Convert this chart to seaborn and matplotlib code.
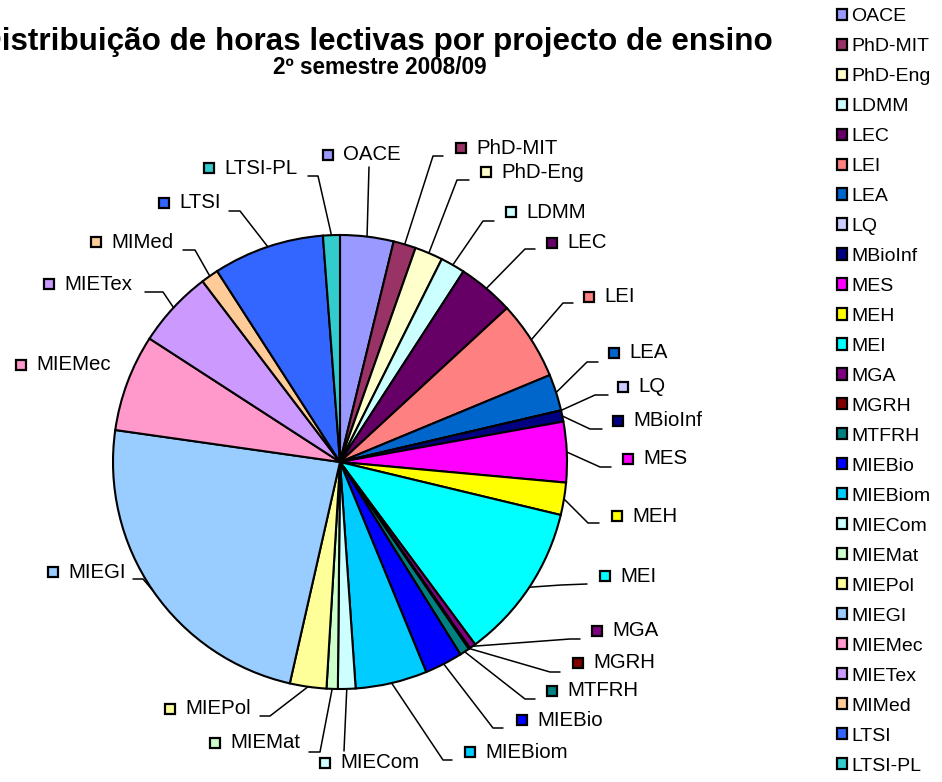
import matplotlib
matplotlib.use('agg')
import matplotlib.pyplot as plt
from matplotlib.patches import Rectangle
import numpy as np
import seaborn as sns

### data ###

projects = ["OACE", "PhD-MIT", "PhD-Eng", "LDMM", "LEC", "LEI", "LEA", "LQ",
            "MBioInf", "MES", "MEH", "MEI", "MGA", "MGRH", "MTFRH", "MIEBio",
            "MIEBiom", "MIECom", "MIEMat", "MIEPol", "MIEGI", "MIEMec",
            "MIETex", "MIMed", "LTSI", "LTSI-PL"]

# share of teaching hours (%)
hours_pct = [3.8, 1.6, 2.0, 1.75, 4.0, 5.6, 2.6, 0.0,
             0.8, 4.3, 2.3, 11.1, 0.45, 0.1, 0.7, 2.7,
             5.1, 1.25, 0.8, 2.6, 23.7, 6.9,
             5.5, 1.25, 7.9, 1.2]

colors = ["#9999FF", "#993366", "#FFFFCC", "#CCFFFF", "#660066", "#FF8080",
          "#0066CC", "#CCCCFF", "#000080", "#FF00FF", "#FFFF00", "#00FFFF",
          "#800080", "#800000", "#008080", "#0000FF", "#00CCFF", "#CCFFFF",
          "#CCFFCC", "#FFFF99", "#99CCFF", "#FF99CC", "#CC99FF", "#FFCC99",
          "#3366FF", "#33CCCC"]

title = "Distribuição de horas lectivas por projecto de ensino"
subtitle = "2º semestre 2008/09"

### layout (pixels, origin top-left) ###
W, H = 942, 782
PIE_C = (340, 462)
PIE_R = 227

# label square centre, leader elbow, leader end
label_sq = [(328, 155), (461, 148), (486, 172), (511, 212), (552, 243), (589, 297),
            (614, 353), (623, 387), (618, 421), (628, 459), (617, 516), (605, 576),
            (597, 631), (578, 663), (552, 691), (522, 720), (470, 752), (325, 763),
            (215, 743), (170, 709), (53, 572), (21, 365), (49, 284), (96, 242),
            (164, 203), (209, 168)]
leader = [((369, 167), (369, 167)), ((433, 156), (443, 156)), ((457, 180), (469, 180)),
          ((483, 221), (494, 221)), ((525, 249), (535, 249)), ((563, 303), (573, 303)),
          ((587, 362), (598, 362)), ((595, 395), (608, 395)), ((590, 429), (602, 429)),
          ((600, 467), (611, 467)), ((588, 523), (599, 523)), ((561, 585), (587, 584)),
          ((570, 639), (580, 639)), ((550, 672), (560, 672)), ((525, 699), (535, 699)),
          ((493, 728), (503, 728)), ((443, 760), (452, 760)), ((344, 751), (344, 751)),
          ((320, 752), (309, 752)), ((270, 716), (260, 716)), ((143, 579), (133, 579)),
          None, ((163, 292), (145, 292)), ((195, 250), (183, 250)),
          ((240, 211), (229, 211)), ((318, 176), (308, 176))]


def py(y):
    # pixel row -> data y
    return H - y


sns.set_style("white")
plt.rcParams['font.family'] = ['Liberation Sans', 'DejaVu Sans']
plt.rcParams['text.color'] = 'black'

fig = plt.figure(figsize=(W / 100, H / 100), dpi=100)
ax = fig.add_axes([0, 0, 1, 1])

wedges, _ = ax.pie(hours_pct, colors=colors, startangle=90, counterclock=False,
                   center=(PIE_C[0], py(PIE_C[1])), radius=PIE_R,
                   wedgeprops=dict(edgecolor="black", linewidth=1.5))

ax.set_xlim(0, W)
ax.set_ylim(0, H)
ax.set_aspect('equal')
ax.axis('off')

# data labels with leader lines
for w, name, col, sq, ld in zip(wedges, projects, colors, label_sq, leader):
    sx, sy = sq
    ax.plot(sx, py(sy), marker='s', ms=7.2, mfc=col, mec='black', mew=1.6, zorder=5)
    ax.text(sx + 15, py(sy), name, fontsize=14.7, va='center', ha='left')
    if ld is None:
        continue
    mid = np.deg2rad((w.theta1 + w.theta2) / 2)
    x0 = w.center[0] + w.r * np.cos(mid)
    y0 = w.center[1] + w.r * np.sin(mid)
    (ex, ey), (tx, ty) = ld
    ax.plot([x0, ex, tx], [y0, py(ey), py(ty)], color='black', lw=1.1, zorder=4)

# titles
fig.text(376 / W, 1 - 42 / H, title, ha='center', va='center', fontsize=22.6, weight='bold')
fig.text(380 / W, 1 - 68 / H, subtitle, ha='center', va='center', fontsize=16.3, weight='bold')

# legend
handles = [Rectangle((0, 0), 1, 1, fc=c, ec='black', lw=1.6) for c in colors]
fig.legend(handles, projects, loc='upper left', bbox_to_anchor=(837 / W, 1 - 8 / H),
           frameon=False, fontsize=14, handlelength=0.5, handleheight=0.5,
           handletextpad=0.25, labelspacing=0.668, borderaxespad=0, borderpad=0)

plt.savefig("out.png", dpi=100)
